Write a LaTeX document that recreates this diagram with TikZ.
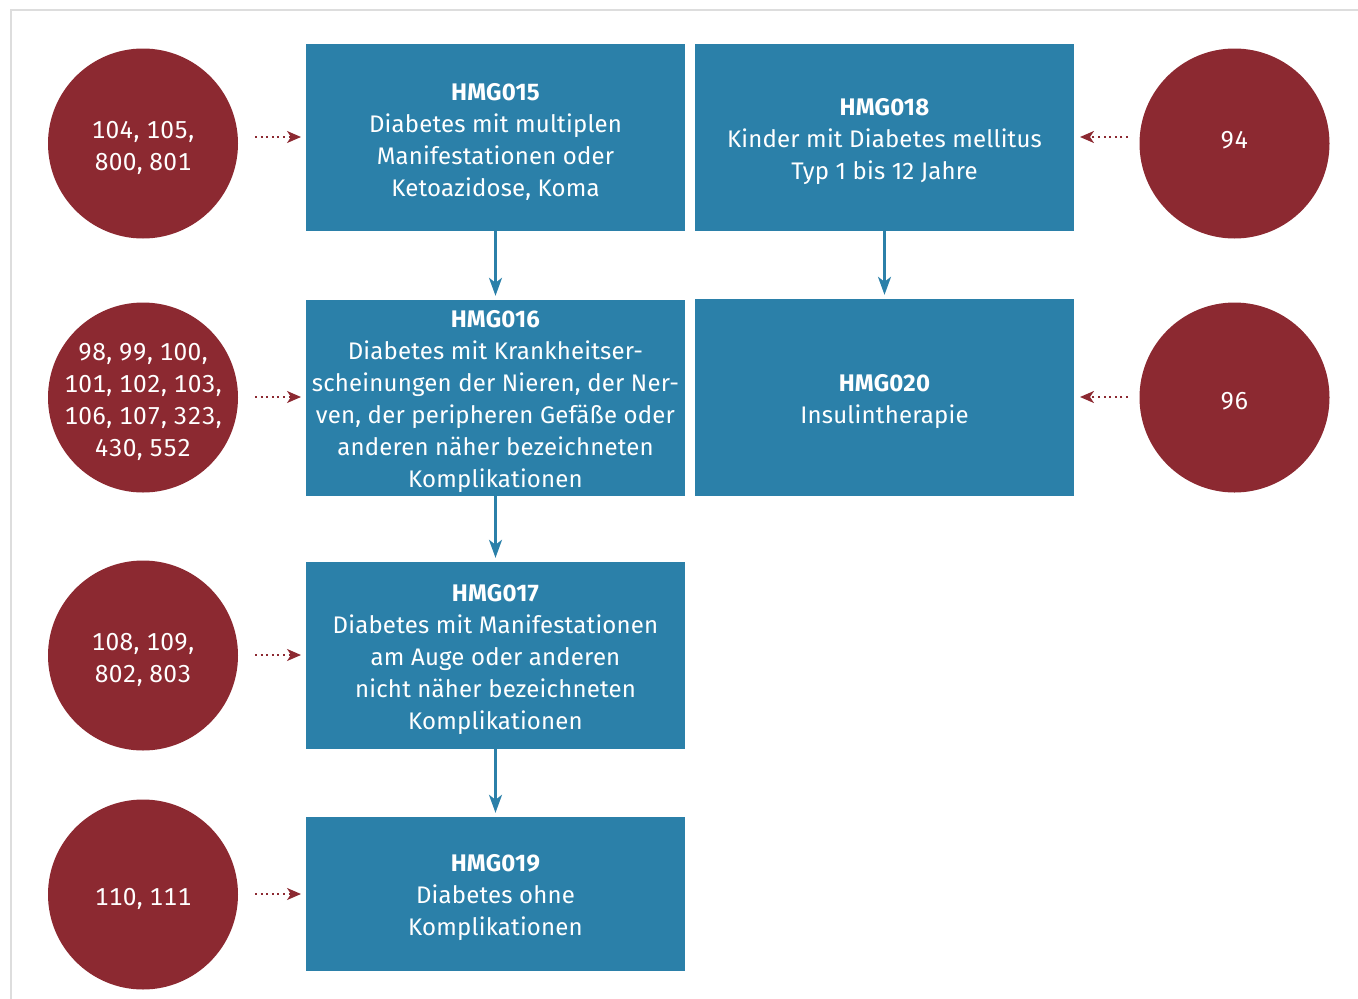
\documentclass[tikz,border=0pt]{standalone}
\usepackage{fontspec}
\setmainfont{Fira Sans}[LetterSpace=0.8]
\newfontfamily\numfont{Fira Sans}[Numbers=Monospaced,LetterSpace=1.2]
\usetikzlibrary{arrows.meta}
\definecolor{boxblue}{HTML}{2B80A9}
\definecolor{circred}{HTML}{8C2931}
\definecolor{framegray}{HTML}{DDDDDD}
\begin{document}
\begin{tikzpicture}[x=1pt,y=-1pt,
  hmgbox/.style={fill=boxblue, inner sep=0pt, minimum width=379pt},
  boxtext/.style={text=white, align=center, yshift=-4pt, font=\fontsize{24}{32}\selectfont},
  code/.style={circle, fill=circred, minimum size=190pt, inner sep=0pt},
  codetext/.style={text=white, align=center, yshift=-4pt, font=\numfont\fontsize{24.5}{32}\selectfont},
  dotarrow/.style={circred, line width=2pt, dash pattern=on 2pt off 3.6pt, -{Stealth[length=14pt,width=12pt,inset=4pt]}},
  flow/.style={boxblue, line width=2.5pt, -{Stealth[length=18pt,width=13pt,inset=5pt]}}
]
\useasboundingbox (0,0) rectangle (1358,999);
\draw[framegray, line width=2.5pt] (11,999) -- (11,10) -- (1358,10);

% boxes
\node[hmgbox, minimum height=187pt, label={[boxtext]center:{\textbf{HMG015}\\Diabetes mit multiplen\\Manifestationen oder\\Ketoazidose, Koma}}] (h015) at (495.5,137.5) {};
\node[hmgbox, minimum height=187pt, label={[boxtext]center:{\textbf{HMG018}\\Kinder mit Diabetes mellitus\\Typ 1 bis 12 Jahre}}] (h018) at (884.5,137.5) {};
\node[hmgbox, minimum height=196pt, label={[boxtext]center:{\textbf{HMG016}\\Diabetes mit Krankheitser-\\scheinungen der Nieren, der Ner-\\ven, der peripheren Gefäße oder\\anderen näher bezeichneten\\Komplikationen}}] (h016) at (495.5,398) {};
\node[hmgbox, minimum height=197pt, label={[boxtext]center:{\textbf{HMG020}\\Insulintherapie}}] (h020) at (884.5,397.5) {};
\node[hmgbox, minimum height=187pt, label={[boxtext]center:{\textbf{HMG017}\\Diabetes mit Manifestationen\\am Auge oder anderen\\nicht näher bezeichneten\\Komplikationen}}] (h017) at (495.5,655.5) {};
\node[hmgbox, minimum height=154pt, label={[boxtext]center:{\textbf{HMG019}\\Diabetes ohne\\Komplikationen}}] (h019) at (495.5,894) {};

% circles
\node[code, label={[codetext]center:{104, 105,\\800, 801}}] (c1) at (143,143.5) {};
\node[code, label={[codetext]center:{98, 99, 100,\\101, 102, 103,\\106, 107, 323,\\430, 552}}] (c2) at (143,397.5) {};
\node[code, label={[codetext]center:{108, 109,\\802, 803}}] (c3) at (143,655.5) {};
\node[code, label={[codetext]center:{110, 111}}] (c4) at (143,894.5) {};
\node[code, label={[codetext,yshift=7pt]center:{94}}] (c5) at (1234.5,143.5) {};
\node[code, label={[codetext]center:{96}}] (c6) at (1234.5,397.5) {};

% dotted arrows
\coordinate (a1) at (255,137); \coordinate (b1) at (301,137);
\coordinate (a2) at (255,397); \coordinate (b2) at (301,397);
\coordinate (a3) at (255,655); \coordinate (b3) at (301,655);
\coordinate (a4) at (255,894); \coordinate (b4) at (301,894);
\coordinate (a5) at (1128,137); \coordinate (b5) at (1080,137);
\coordinate (a6) at (1128,397); \coordinate (b6) at (1080,397);
\draw[dotarrow] (a1) -- (b1);
\draw[dotarrow] (a2) -- (b2);
\draw[dotarrow] (a3) -- (b3);
\draw[dotarrow] (a4) -- (b4);
\draw[dotarrow] (a5) -- (b5);
\draw[dotarrow] (a6) -- (b6);

% flow arrows
\draw[flow] (h015.south) -- ([yshift=4pt]h016.north);
\draw[flow] (h018.south) -- ([yshift=4pt]h020.north);
\draw[flow] (h016.south) -- ([yshift=4pt]h017.north);
\draw[flow] (h017.south) -- ([yshift=4pt]h019.north);
\end{tikzpicture}
\end{document}
